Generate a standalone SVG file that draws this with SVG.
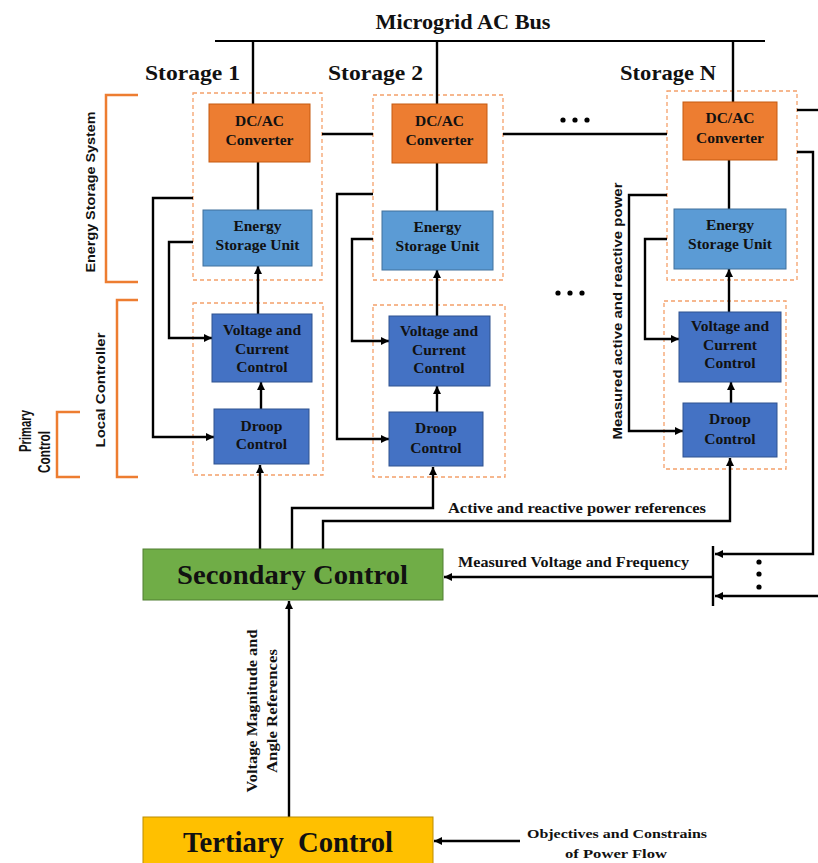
<svg xmlns="http://www.w3.org/2000/svg" width="818" height="863" viewBox="0 0 818 863">
  <style>
    .lbl { font-family: "Liberation Serif", "Times New Roman", serif; font-weight: bold; fill: #111; }
    .sans { font-family: "Liberation Sans", Arial, sans-serif; font-weight: bold; fill: #111; }
    .box { font-size: 15.5px; text-anchor: middle; }
    .wire { fill: none; stroke: #000; stroke-width: 2.4; }
    .bus { fill: none; stroke: #000; stroke-width: 2; }
    .dash { fill: none; stroke: #F4A06A; stroke-width: 1.3; stroke-dasharray: 4 3; }
    .brace { fill: none; stroke: #ED7D31; stroke-width: 2.5; }
    .conv { fill: #ED7D31; stroke: #C55A11; stroke-width: 1; }
    .esu { fill: #5B9BD5; stroke: #41719C; stroke-width: 1; }
    .ctl { fill: #4472C4; stroke: #2F528F; stroke-width: 1; }
  </style>
  <defs>
    <marker id="ah" viewBox="0 0 10 10" refX="10" refY="5" markerUnits="userSpaceOnUse" markerWidth="9" markerHeight="8" orient="auto">
      <path d="M0,0 L10,5 L0,10 z" fill="#000"/>
    </marker>
  </defs>

  <!-- AC bus and titles -->
  <text class="lbl" x="463" y="29" font-size="21" text-anchor="middle" textLength="175" lengthAdjust="spacingAndGlyphs">Microgrid AC Bus</text>
  <line class="bus" x1="215" y1="41" x2="765" y2="41"/>
  <text class="lbl" x="145" y="80" font-size="22" textLength="95" lengthAdjust="spacingAndGlyphs">Storage 1</text>
  <text class="lbl" x="328" y="80" font-size="22" textLength="95" lengthAdjust="spacingAndGlyphs">Storage 2</text>
  <text class="lbl" x="620" y="80" font-size="22" textLength="96" lengthAdjust="spacingAndGlyphs">Storage N</text>

  <!-- Side brackets -->
  <g id="ess-bracket">
    <path class="brace" d="M138,95 H106 V282 H138"/>
    <text class="sans" font-size="13" text-anchor="middle" transform="translate(95,192) rotate(-90)" textLength="161" lengthAdjust="spacingAndGlyphs">Energy Storage System</text>
  </g>
  <g id="lc-bracket">
    <path class="brace" d="M138,300 H117 V477 H138"/>
    <text class="sans" font-size="13" text-anchor="middle" transform="translate(105,390) rotate(-90)" textLength="115" lengthAdjust="spacingAndGlyphs">Local Controller</text>
  </g>
  <g id="pc-bracket">
    <path class="brace" d="M80,412 H57 V477 H80"/>
    <text class="sans" font-size="16" text-anchor="middle" transform="translate(31,431) rotate(-90)" textLength="42" lengthAdjust="spacingAndGlyphs">Primary</text>
    <text class="sans" font-size="16" text-anchor="middle" transform="translate(50,452) rotate(-90)" textLength="42" lengthAdjust="spacingAndGlyphs">Control</text>
  </g>

  <!-- Dashed grouping frames -->
  <g id="frames">
    <rect class="dash" x="193" y="93" width="129" height="187"/>
    <rect class="dash" x="193" y="303" width="130" height="172"/>
    <rect class="dash" x="373" y="95" width="130" height="185"/>
    <rect class="dash" x="373" y="305" width="132" height="172"/>
    <rect class="dash" x="667" y="91" width="130" height="189"/>
    <rect class="dash" x="664" y="301" width="122" height="168"/>
  </g>

  <!-- Connectors -->
  <g id="connectors">
    <!-- bus taps -->
    <path class="wire" d="M253,41 V104"/>
    <path class="wire" d="M437,41 V104"/>
    <path class="wire" d="M733,41 V102"/>
    <!-- converter to storage unit -->
    <path class="wire" d="M258,162 V210"/>
    <path class="wire" d="M437,163 V211"/>
    <path class="wire" d="M729,160 V209"/>
    <!-- inner control chain -->
    <path class="wire" d="M258,314 V266" marker-end="url(#ah)"/>
    <path class="wire" d="M261,409 V382" marker-end="url(#ah)"/>
    <path class="wire" d="M437,316 V270" marker-end="url(#ah)"/>
    <path class="wire" d="M437,412 V386" marker-end="url(#ah)"/>
    <path class="wire" d="M729,312 V269" marker-end="url(#ah)"/>
    <path class="wire" d="M731,403 V382" marker-end="url(#ah)"/>
    <!-- measurement feedback -->
    <path class="wire" d="M193,198 H153 V437 H214" marker-end="url(#ah)"/>
    <path class="wire" d="M193,242 H169 V338 H212" marker-end="url(#ah)"/>
    <path class="wire" d="M373,194 H337 V439 H389" marker-end="url(#ah)"/>
    <path class="wire" d="M373,239 H352 V341 H389" marker-end="url(#ah)"/>
    <path class="wire" d="M667,195 H629 V431 H683" marker-end="url(#ah)"/>
    <path class="wire" d="M667,239 H645 V339 H679" marker-end="url(#ah)"/>
    <!-- links between storages -->
    <path class="wire" d="M322,134 H373"/>
    <path class="wire" d="M503,134 H667"/>
    <path class="wire" d="M797,110 H818"/>
    <path class="wire" d="M797,152 H813 V554 H715" marker-end="url(#ah)"/>
    <path class="wire" d="M818,596 H715" marker-end="url(#ah)"/>
    <path class="wire" d="M713,546 V606"/>
    <!-- secondary outputs -->
    <path class="wire" d="M260,549 V465" marker-end="url(#ah)"/>
    <path class="wire" d="M292,549 V508 H433 V467" marker-end="url(#ah)"/>
    <path class="wire" d="M323,549 V521 H730 V458" marker-end="url(#ah)"/>
    <!-- secondary inputs -->
    <path class="wire" d="M713,577 H444" marker-end="url(#ah)"/>
    <path class="wire" d="M289,817 V601" marker-end="url(#ah)"/>
    <path class="wire" d="M520,841 H434" marker-end="url(#ah)"/>
  </g>

  <!-- continuation dots -->
  <g id="ellipsis" fill="#000">
    <circle cx="563" cy="120" r="2.6"/><circle cx="575" cy="120" r="2.6"/><circle cx="587" cy="120" r="2.6"/>
    <circle cx="558" cy="293" r="2.6"/><circle cx="570" cy="293" r="2.6"/><circle cx="582" cy="293" r="2.6"/>
    <circle cx="759" cy="562" r="2.6"/><circle cx="759" cy="574" r="2.6"/><circle cx="759" cy="587" r="2.6"/>
  </g>

  <!-- Storage 1 -->
  <g id="s1-conv">
    <rect class="conv" x="209" y="104" width="101" height="58"/>
    <text class="lbl box" x="259.5" y="126">DC/AC</text>
    <text class="lbl box" x="259.5" y="145">Converter</text>
  </g>
  <g id="s1-esu">
    <rect class="esu" x="203" y="210" width="109" height="56"/>
    <text class="lbl box" x="257.5" y="231">Energy</text>
    <text class="lbl box" x="257.5" y="250">Storage Unit</text>
  </g>
  <g id="s1-vcc">
    <rect class="ctl" x="212" y="314" width="100" height="68"/>
    <text class="lbl box" x="262" y="335">Voltage and</text>
    <text class="lbl box" x="262" y="354">Current</text>
    <text class="lbl box" x="262" y="372">Control</text>
  </g>
  <g id="s1-droop">
    <rect class="ctl" x="214" y="409" width="95" height="55"/>
    <text class="lbl box" x="261.5" y="431">Droop</text>
    <text class="lbl box" x="261.5" y="449">Control</text>
  </g>

  <!-- Storage 2 -->
  <g id="s2-conv">
    <rect class="conv" x="392" y="104" width="95" height="59"/>
    <text class="lbl box" x="439.5" y="126">DC/AC</text>
    <text class="lbl box" x="439.5" y="145">Converter</text>
  </g>
  <g id="s2-esu">
    <rect class="esu" x="382" y="211" width="111" height="59"/>
    <text class="lbl box" x="437.5" y="232">Energy</text>
    <text class="lbl box" x="437.5" y="251">Storage Unit</text>
  </g>
  <g id="s2-vcc">
    <rect class="ctl" x="389" y="316" width="101" height="70"/>
    <text class="lbl box" x="439" y="336">Voltage and</text>
    <text class="lbl box" x="439" y="355">Current</text>
    <text class="lbl box" x="439" y="373">Control</text>
  </g>
  <g id="s2-droop">
    <rect class="ctl" x="389" y="412" width="94" height="54"/>
    <text class="lbl box" x="436" y="433">Droop</text>
    <text class="lbl box" x="436" y="453">Control</text>
  </g>

  <!-- Storage N -->
  <g id="sn-conv">
    <rect class="conv" x="683" y="102" width="94" height="58"/>
    <text class="lbl box" x="730" y="123">DC/AC</text>
    <text class="lbl box" x="730" y="143">Converter</text>
  </g>
  <g id="sn-esu">
    <rect class="esu" x="674" y="209" width="112" height="60"/>
    <text class="lbl box" x="730" y="230">Energy</text>
    <text class="lbl box" x="730" y="249">Storage Unit</text>
  </g>
  <g id="sn-vcc">
    <rect class="ctl" x="679" y="312" width="102" height="70"/>
    <text class="lbl box" x="730" y="331">Voltage and</text>
    <text class="lbl box" x="730" y="350">Current</text>
    <text class="lbl box" x="730" y="368">Control</text>
  </g>
  <g id="sn-droop">
    <rect class="ctl" x="683" y="403" width="94" height="54"/>
    <text class="lbl box" x="730" y="424">Droop</text>
    <text class="lbl box" x="730" y="444">Control</text>
  </g>

  <!-- Connector labels -->
  <text class="sans" font-size="13" text-anchor="middle" transform="translate(622,311) rotate(-90)" textLength="257" lengthAdjust="spacingAndGlyphs">Measured active and reactive power</text>
  <text class="lbl" x="448" y="513" font-size="14" textLength="258" lengthAdjust="spacingAndGlyphs">Active and reactive power references</text>
  <text class="lbl" x="458" y="567" font-size="14" textLength="231" lengthAdjust="spacingAndGlyphs">Measured Voltage and Frequency</text>
  <text class="lbl" font-size="14" text-anchor="middle" transform="translate(257,711) rotate(-90)" textLength="163" lengthAdjust="spacingAndGlyphs">Voltage Magnitude and</text>
  <text class="lbl" font-size="14" text-anchor="middle" transform="translate(277,711) rotate(-90)" textLength="124" lengthAdjust="spacingAndGlyphs">Angle References</text>
  <text class="lbl" x="617" y="838" font-size="13" text-anchor="middle" textLength="180" lengthAdjust="spacingAndGlyphs">Objectives and Constrains</text>
  <text class="lbl" x="616" y="858" font-size="13" text-anchor="middle" textLength="102" lengthAdjust="spacingAndGlyphs">of Power Flow</text>

  <!-- Upper control levels -->
  <g id="secondary">
    <rect x="143" y="549" width="300" height="51" fill="#70AD47" stroke="#507E32" stroke-width="1"/>
    <text class="lbl" x="292.5" y="584" font-size="28" text-anchor="middle" textLength="231" lengthAdjust="spacingAndGlyphs">Secondary Control</text>
  </g>
  <g id="tertiary">
    <rect x="143" y="817" width="290" height="50" fill="#FFC000" stroke="#BC8C00" stroke-width="1"/>
    <text class="lbl" x="288" y="852" font-size="29" text-anchor="middle" textLength="210" lengthAdjust="spacingAndGlyphs">Tertiary&#160; Control</text>
  </g>
</svg>
